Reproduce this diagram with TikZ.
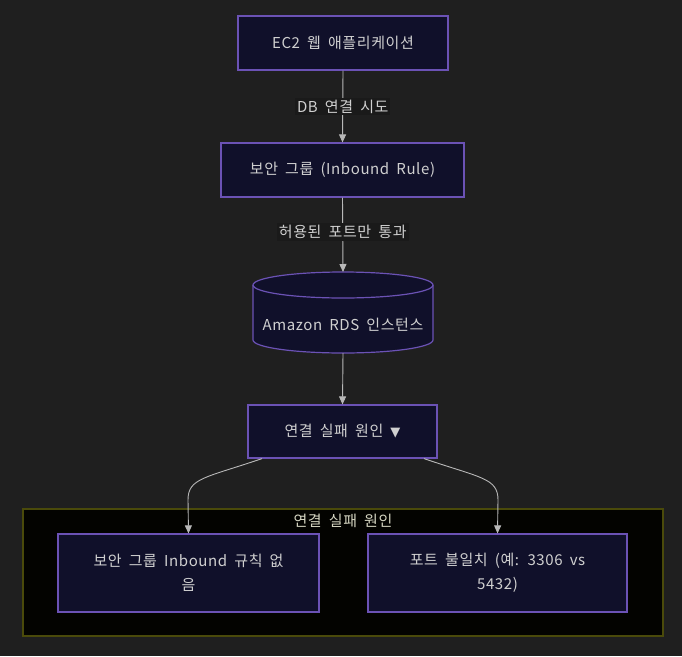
\documentclass[tikz,border=0pt]{standalone}
\usepackage{fontspec}
\setmainfont{Noto Sans CJK KR}[LetterSpace=4,WordSpace=1.8]
\newfontfamily\symfont{DejaVu Sans}
\usetikzlibrary{arrows.meta,shapes.geometric}
\definecolor{bgc}{HTML}{1F1F1F}
\definecolor{nodefill}{HTML}{10102A}
\definecolor{nodeborder}{HTML}{6B52B5}
\definecolor{txt}{HTML}{D0D0D0}
\definecolor{linec}{HTML}{B8B8B8}
\definecolor{lblbg}{HTML}{1A1A1A}
\definecolor{clfill}{HTML}{030300}
\definecolor{clborder}{HTML}{4A4A0A}
\definecolor{cltxt}{HTML}{D6D6C2}
\tikzset{
  box/.style={draw=nodeborder, fill=nodefill, line width=1.2pt, text=txt, align=center, inner sep=0pt},
  conn/.style={draw=linec, line width=0.9pt, -{Triangle[width=7pt,length=8pt]}},
  lbl/.style={fill=lblbg, text=txt, inner sep=2pt},
}
\begin{document}
\begin{tikzpicture}[x=1pt,y=-1pt,font=\fontsize{15}{24}\selectfont]
\fill[bgc] (0,0) rectangle (682,656);
\useasboundingbox (0,0) rectangle (682,656);
% cluster
\node[draw=clborder, fill=clfill, line width=1.2pt, minimum width=640pt, minimum height=127pt, inner sep=0pt] (cl) at (343,572.5) {};
\node[text=cltxt] (cllbl) at (343,521) {연결 실패 원인};
% nodes
\node[box, minimum width=210pt, minimum height=54pt] (ec2) at (343,43) {EC2 웹 애플리케이션};
\node[box, minimum width=243pt, minimum height=54pt] (sg) at (342.5,170) {보안 그룹 (Inbound Rule)};
% cylinder
\coordinate (cyltop) at (343,272);
\coordinate (cylbot) at (343,353);
\filldraw[fill=nodefill, draw=nodeborder, line width=1.2pt]
  (253,285) -- (253,340) arc[start angle=180, end angle=0, x radius=90, y radius=13]
  -- (433,285) arc[start angle=360, end angle=180, x radius=90, y radius=13];
\draw[nodeborder, line width=1.2pt] (253,285) arc[start angle=180, end angle=0, x radius=90, y radius=13];
\node[text=txt] (rds) at (343,325) {Amazon RDS 인스턴스};
\node[box, minimum width=189pt, minimum height=53pt] (cause) at (342.5,431.5) {연결 실패 원인 {\symfont\fontsize{13}{16}\selectfont ▼}};
\node[box, minimum width=261pt, minimum height=78pt] (leaf1) at (188.5,573) {보안 그룹 Inbound 규칙 없\\음};
\node[box, minimum width=259pt, minimum height=78pt] (leaf2) at (497.5,573) {포트 불일치 (예: 3306 vs\\5432)};
% connectors
\draw[conn] (ec2.south) -- node[lbl] (l1) {DB 연결 시도} (sg.north);
\draw[conn] (sg.south) -- node[lbl, pos=0.46] (l2) {허용된 포트만 통과} (cyltop);
\draw[conn] (cylbot) -- (cause.north);
\coordinate (c1) at (262,458.6);
\coordinate (c2) at (424,458.6);
\draw[conn] (c1) .. controls (205,478) and (188,478) .. (188,500) -- (leaf1.north);
\draw[conn] (c2) .. controls (481,478) and (498,478) .. (498,500) -- (leaf2.north);
\end{tikzpicture}
\end{document}
